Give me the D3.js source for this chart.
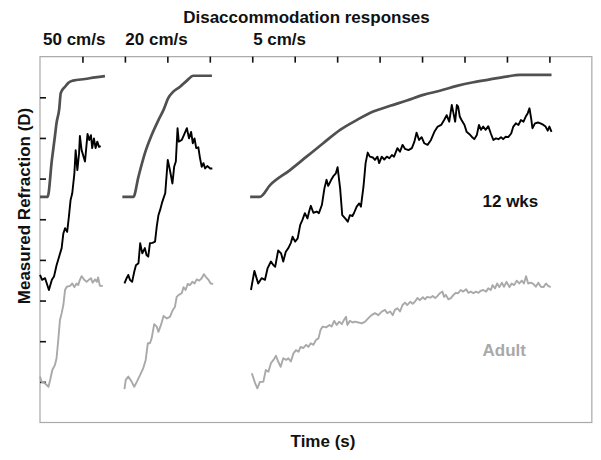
<!DOCTYPE html>
<html><head><meta charset="utf-8">
<script src="https://cdn.jsdelivr.net/npm/d3@7"></script>
<style>
html,body{margin:0;padding:0;background:#fff;}
svg text{font-family:"Liberation Sans",Arial,Helvetica,sans-serif;font-weight:bold;}
</style></head>
<body><svg id="chart" width="601" height="460"></svg>
<script>
// ---------- DATA (time in s, refraction in D) ----------
const title = "Disaccommodation responses";
const speedLabels = ["50 cm/s", "20 cm/s", "5 cm/s"];
const panelStarts = [0, 1.94, 4.95];
const xTickValues = [1,2,3,4,5,6,7,8,9,10,11,12];
const yTickValues = [1,2,3,4,5,6,7,8];
const xLabel = "Time (s)";
const yLabel = "Measured Refraction (D)";
const groupLabels = ["12 wks", "Adult"];

const stim50 = [[0,5.55],[0.18,5.55],[0.28,6.46],[0.35,7.03],[0.39,7.37],[0.45,7.69],[0.49,8.11],[0.59,8.26],[0.67,8.36],[0.78,8.41],[1.06,8.45],[1.30,8.49],[1.53,8.52]];
const stim20 = [[1.94,5.55],[2.20,5.55],[2.32,6.05],[2.47,6.62],[2.63,7.07],[2.79,7.44],[2.91,7.69],[3.02,7.98],[3.14,8.14],[3.30,8.26],[3.46,8.41],[3.61,8.53],[4.05,8.53]];
const stim5 = [[4.95,5.55],[5.18,5.55],[5.42,5.84],[5.89,6.21],[6.28,6.54],[6.67,6.87],[7.07,7.20],[7.46,7.44],[7.85,7.65],[8.25,7.79],[8.64,7.92],[9.03,8.06],[9.42,8.16],[9.82,8.28],[10.21,8.37],[10.60,8.44],[10.99,8.51],[11.31,8.55],[12.05,8.55]];

const wk12_50 = [[0.00,3.63],[0.05,3.51],[0.12,3.55],[0.21,3.26],[0.28,3.51],[0.33,3.59],[0.39,3.87],[0.45,4.08],[0.51,4.29],[0.55,4.65],[0.59,4.78],[0.64,4.69],[0.68,5.06],[0.72,5.47],[0.76,5.64],[0.81,6.13],[0.84,6.70],[0.88,6.21],[0.92,6.62],[0.94,7.05],[0.98,6.70],[1.06,6.42],[1.12,7.10],[1.16,6.95],[1.20,7.07],[1.23,6.75],[1.27,6.99],[1.31,6.75],[1.35,6.91],[1.39,6.78],[1.43,6.80]];
const wk12_20 = [[1.99,3.42],[2.04,3.55],[2.08,3.63],[2.12,3.51],[2.17,3.46],[2.22,3.71],[2.26,3.87],[2.32,3.92],[2.36,4.41],[2.41,4.16],[2.47,4.29],[2.51,4.12],[2.55,4.08],[2.59,4.41],[2.65,4.42],[2.71,4.45],[2.75,4.82],[2.79,5.10],[2.83,5.23],[2.87,5.39],[2.91,5.52],[2.95,5.64],[3.01,6.46],[3.06,6.21],[3.12,5.88],[3.16,6.29],[3.20,6.42],[3.24,7.24],[3.27,6.91],[3.34,6.95],[3.39,7.07],[3.46,7.24],[3.51,6.99],[3.56,7.15],[3.60,6.87],[3.64,6.99],[3.68,6.75],[3.73,6.77],[3.77,6.50],[3.81,6.29],[3.85,6.38],[3.89,6.25],[3.94,6.31],[4.01,6.25],[4.06,6.25]];
const wk12_5 = [[4.97,3.26],[5.05,3.73],[5.14,3.42],[5.22,3.55],[5.30,3.51],[5.36,3.79],[5.44,3.96],[5.50,3.87],[5.54,3.83],[5.61,4.23],[5.68,4.16],[5.73,3.96],[5.79,4.20],[5.85,4.29],[5.91,4.42],[5.95,4.57],[6.01,4.45],[6.07,4.53],[6.13,4.86],[6.18,4.98],[6.24,5.15],[6.30,5.02],[6.34,5.19],[6.38,5.33],[6.44,5.16],[6.52,5.19],[6.57,5.15],[6.64,5.35],[6.70,5.76],[6.75,5.97],[6.79,5.82],[6.86,5.97],[6.91,6.06],[6.97,6.13],[7.01,6.28],[7.07,5.76],[7.12,5.10],[7.19,5.02],[7.25,4.94],[7.30,5.10],[7.36,5.08],[7.40,5.16],[7.46,5.31],[7.52,5.39],[7.56,5.31],[7.62,5.80],[7.67,6.38],[7.72,6.64],[7.77,6.54],[7.84,6.52],[7.89,6.46],[7.95,6.54],[7.99,6.38],[8.05,6.54],[8.11,6.47],[8.17,6.54],[8.23,6.50],[8.29,6.58],[8.34,6.54],[8.42,6.75],[8.48,6.66],[8.54,6.83],[8.60,6.73],[8.68,6.70],[8.76,6.75],[8.82,6.91],[8.87,7.13],[8.93,6.95],[8.99,7.02],[9.05,6.87],[9.13,6.83],[9.21,6.95],[9.29,7.15],[9.37,7.28],[9.45,7.32],[9.52,7.44],[9.58,7.56],[9.64,7.40],[9.70,7.81],[9.74,7.61],[9.78,7.40],[9.82,7.81],[9.85,7.77],[9.89,7.52],[9.93,7.44],[10.00,7.32],[10.05,7.15],[10.11,7.10],[10.17,7.03],[10.23,6.97],[10.29,7.07],[10.34,7.32],[10.39,7.20],[10.44,7.28],[10.50,7.20],[10.56,7.29],[10.62,7.11],[10.68,6.95],[10.74,6.99],[10.80,6.97],[10.86,7.02],[10.91,6.97],[10.97,7.03],[11.03,7.02],[11.10,7.11],[11.15,7.28],[11.21,7.36],[11.27,7.32],[11.33,7.44],[11.39,7.40],[11.44,7.52],[11.49,7.61],[11.53,7.73],[11.57,7.48],[11.60,7.24],[11.66,7.36],[11.73,7.38],[11.79,7.36],[11.86,7.32],[11.91,7.28],[11.96,7.18],[12.00,7.28],[12.05,7.15]];

const adult50 = [[0.00,1.13],[0.04,1.00],[0.12,0.96],[0.20,0.88],[0.24,1.05],[0.29,1.29],[0.35,1.41],[0.39,1.58],[0.43,2.03],[0.47,2.52],[0.51,2.69],[0.55,2.89],[0.59,3.26],[0.63,3.34],[0.71,3.36],[0.76,3.42],[0.81,3.33],[0.86,3.42],[0.90,3.38],[0.94,3.51],[0.98,3.60],[1.04,3.51],[1.10,3.46],[1.15,3.51],[1.20,3.55],[1.24,3.44],[1.30,3.52],[1.34,3.46],[1.37,3.57],[1.41,3.36],[1.48,3.36]];
const adult20 = [[1.99,0.82],[2.02,1.05],[2.08,1.13],[2.16,1.00],[2.22,0.88],[2.28,1.00],[2.36,1.17],[2.43,1.33],[2.49,1.54],[2.54,1.95],[2.59,1.95],[2.63,2.07],[2.69,2.42],[2.75,2.36],[2.79,2.23],[2.85,2.40],[2.91,2.62],[2.99,2.56],[3.06,2.60],[3.13,2.77],[3.18,2.85],[3.22,3.09],[3.27,3.14],[3.34,3.18],[3.38,3.33],[3.43,3.26],[3.48,3.41],[3.53,3.38],[3.59,3.46],[3.64,3.42],[3.69,3.52],[3.75,3.49],[3.81,3.55],[3.86,3.65],[3.90,3.59],[3.97,3.51],[4.02,3.42],[4.08,3.41]];
const adult5 = [[4.99,1.21],[5.07,0.96],[5.12,0.84],[5.18,1.00],[5.26,1.00],[5.32,1.29],[5.38,1.25],[5.44,1.46],[5.50,1.54],[5.56,1.64],[5.61,1.50],[5.67,1.37],[5.73,1.58],[5.80,1.54],[5.85,1.58],[5.91,1.50],[5.97,1.70],[6.03,1.78],[6.09,1.74],[6.14,1.86],[6.20,1.83],[6.27,1.91],[6.32,1.86],[6.38,1.95],[6.44,1.91],[6.50,2.03],[6.56,2.07],[6.61,2.28],[6.66,2.36],[6.74,2.34],[6.82,2.40],[6.87,2.36],[6.93,2.50],[6.99,2.40],[7.05,2.48],[7.11,2.42],[7.16,2.52],[7.21,2.60],[7.24,2.40],[7.30,2.50],[7.37,2.46],[7.42,2.48],[7.50,2.46],[7.58,2.44],[7.66,2.48],[7.73,2.56],[7.81,2.64],[7.89,2.69],[7.97,2.64],[8.05,2.73],[8.13,2.77],[8.18,2.69],[8.25,2.73],[8.31,2.64],[8.36,2.77],[8.42,2.81],[8.48,2.73],[8.54,2.89],[8.60,2.95],[8.65,2.89],[8.72,2.97],[8.78,2.92],[8.83,2.97],[8.89,3.06],[8.95,3.01],[9.02,3.08],[9.07,3.03],[9.12,3.09],[9.19,3.07],[9.25,3.11],[9.31,3.06],[9.36,3.11],[9.42,3.18],[9.48,3.22],[9.52,3.09],[9.56,3.14],[9.62,3.03],[9.68,3.06],[9.74,3.14],[9.80,3.19],[9.85,3.18],[9.91,3.26],[9.97,3.22],[10.04,3.28],[10.09,3.19],[10.15,3.22],[10.21,3.18],[10.27,3.22],[10.33,3.19],[10.38,3.24],[10.44,3.26],[10.51,3.22],[10.56,3.30],[10.62,3.26],[10.66,3.38],[10.72,3.30],[10.77,3.42],[10.82,3.33],[10.88,3.44],[10.93,3.34],[10.99,3.46],[11.06,3.33],[11.11,3.42],[11.17,3.38],[11.23,3.49],[11.29,3.42],[11.35,3.49],[11.40,3.42],[11.45,3.60],[11.50,3.42],[11.56,3.44],[11.62,3.41],[11.68,3.34],[11.74,3.44],[11.80,3.34],[11.86,3.33],[11.92,3.42],[11.97,3.36],[12.03,3.33]];

// ---------- LAYOUT ----------
const M = {left:40, top:56.65, right:591.85, bottom:422.5};
const x = d3.scaleLinear().domain([0,13]).range([M.left, M.right]);
const y = d3.scaleLinear().domain([0,9]).range([M.bottom, M.top]);
const svg = d3.select("#chart");

// frame
svg.append("rect").attr("x",M.left).attr("y",M.top)
  .attr("width",M.right-M.left).attr("height",M.bottom-M.top)
  .attr("fill","none").attr("stroke","#a8a8a8").attr("stroke-width",1.2);

// ticks (inward)
const topAxis = d3.axisBottom(x).tickValues(xTickValues).tickSize(6).tickFormat("");
const gT = svg.append("g").attr("transform",`translate(0,${M.top})`).call(topAxis);
gT.select(".domain").remove();
gT.selectAll("line").attr("stroke","#111").attr("stroke-width",1.6);
const leftAxis = d3.axisRight(y).tickValues(yTickValues).tickSize(6).tickFormat("");
const gL = svg.append("g").attr("transform",`translate(${M.left},0)`).call(leftAxis);
gL.select(".domain").remove();
gL.selectAll("line").attr("stroke","#111").attr("stroke-width",1.6);

// lines
const line = d3.line().x(d=>x(d[0])).y(d=>y(d[1]));
const smooth = d3.line().x(d=>x(d[0])).y(d=>y(d[1])).curve(d3.curveMonotoneX);
function draw(data,color,w,gen){
  svg.append("path").datum(data).attr("d",(gen||line)).attr("fill","none")
    .attr("stroke",color).attr("stroke-width",w)
    .attr("stroke-linejoin","round").attr("stroke-linecap","butt");
}
[stim50,stim20,stim5].forEach(s=>draw(s,"#505050",2.7,smooth));
[adult50,adult20,adult5].forEach(s=>draw(s,"#a9a9a9",1.9));
[wk12_50,wk12_20,wk12_5].forEach(s=>draw(s,"#000",1.9));

// texts
svg.append("text").attr("x",306.5).attr("y",23).attr("text-anchor","middle")
  .attr("font-size",17).attr("fill","#111").text(title);
speedLabels.forEach((t,i)=>{
  svg.append("text").attr("x",x(panelStarts[i])+3).attr("y",44.5)
    .attr("font-size",17).attr("fill","#111").text(t);
});
svg.append("text").attr("x",323).attr("y",447).attr("text-anchor","middle")
  .attr("font-size",17).attr("fill","#111").text(xLabel);
svg.append("text").attr("transform","translate(30,206) rotate(-90)").attr("text-anchor","middle")
  .attr("font-size",17).attr("fill","#111").text(yLabel);
svg.append("text").attr("x",482.5).attr("y",206.5).attr("font-size",17).attr("fill","#111").text(groupLabels[0]);
svg.append("text").attr("x",482.5).attr("y",355.5).attr("font-size",17).attr("fill","#a9a9a9").text(groupLabels[1]);
</script></body></html>
